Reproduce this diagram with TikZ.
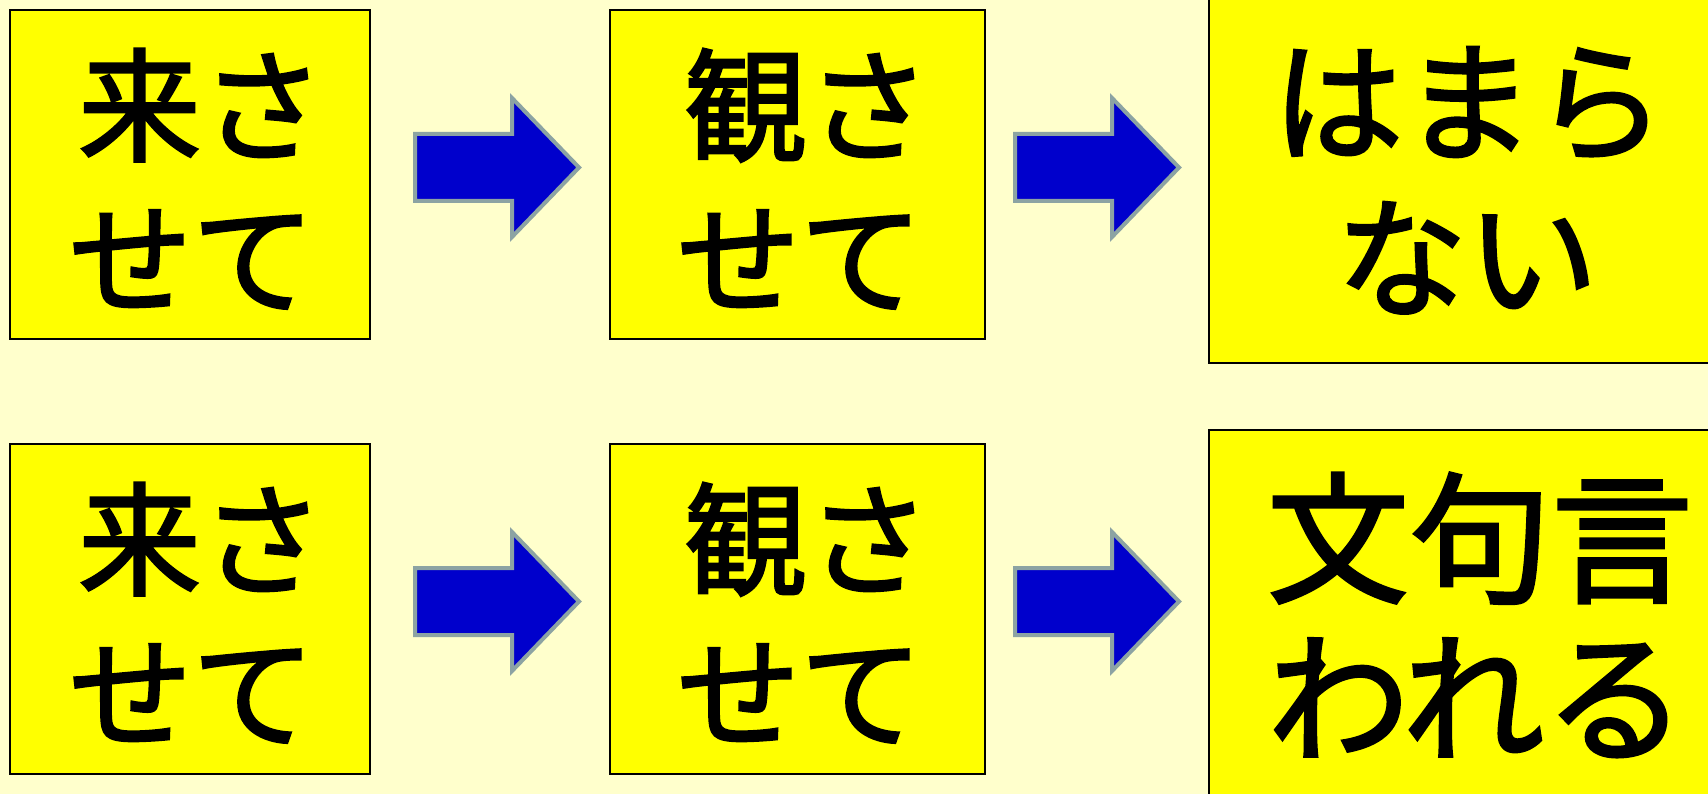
\documentclass[tikz,border=0pt]{standalone}
\usepackage{fontspec}
\newfontfamily\jpm{Noto Sans CJK JP}[UprightFeatures={FakeBold=2.0}]
\definecolor{bgcol}{HTML}{FFFFCC}
\definecolor{boxcol}{HTML}{FFFF00}
\definecolor{arrfill}{HTML}{0000CC}
\definecolor{arredge}{HTML}{8CA3A3}
\tikzset{
  card/.style={draw=black, line width=1.6pt, fill=boxcol},
  txtA/.style={anchor=base, inner sep=0pt, font=\jpm\fontsize{123}{150}\selectfont},
  txtB/.style={anchor=base, inner sep=0pt, font=\jpm\fontsize{131}{150}\selectfont},
  txtC/.style={anchor=base, inner sep=0pt, font=\jpm\fontsize{142}{150}\selectfont},
  blockarrow/.style={fill=arrfill, draw=arredge, line width=4pt, line join=miter}
}
\begin{document}
\begin{tikzpicture}[x=1pt,y=-1pt]
\path[fill=bgcol] (0,0) rectangle (1708,794);
\useasboundingbox (0,0) rectangle (1708,794);
% top row boxes
\draw[card] (10,10) rectangle (370,339);
\draw[card] (610,10) rectangle (985,339);
\draw[card] (1209,-20) rectangle (1730,363);
% bottom row boxes
\draw[card] (10,444) rectangle (370,774);
\draw[card] (610,444) rectangle (985,774);
\draw[card] (1209,430) rectangle (1730,830);
% texts top
\node[txtA] (t1a) at (201,152) {来さ};
\node[txtA] (t1b) at (192,305) {せて};
\node[txtA] (t2a) at (807,152) {観さ};
\node[txtA] (t2b) at (800,305) {せて};
\node[txtB] (t3a) at (1469,151) {はまら};
\node[txtB] (t3b) at (1467,307) {ない};
% texts bottom
\node[txtA] (t4a) at (201,586) {来さ};
\node[txtA] (t4b) at (192,739) {せて};
\node[txtA] (t5a) at (807,586) {観さ};
\node[txtA] (t5b) at (800,739) {せて};
\node[txtC] (t6a) at (1480,592) {文句言};
\node[txtC] (t6b) at (1477,751) {われる};
% block arrows
\foreach \dx/\dy in {0/0, 600/0, 0/434, 600/434}{
  \draw[blockarrow, shift={(\dx,\dy)}]
    (415,134) -- (512,134) -- (512,98) -- (579,167.5) -- (512,237) -- (512,201) -- (415,201) -- cycle;
}
\end{tikzpicture}
\end{document}
